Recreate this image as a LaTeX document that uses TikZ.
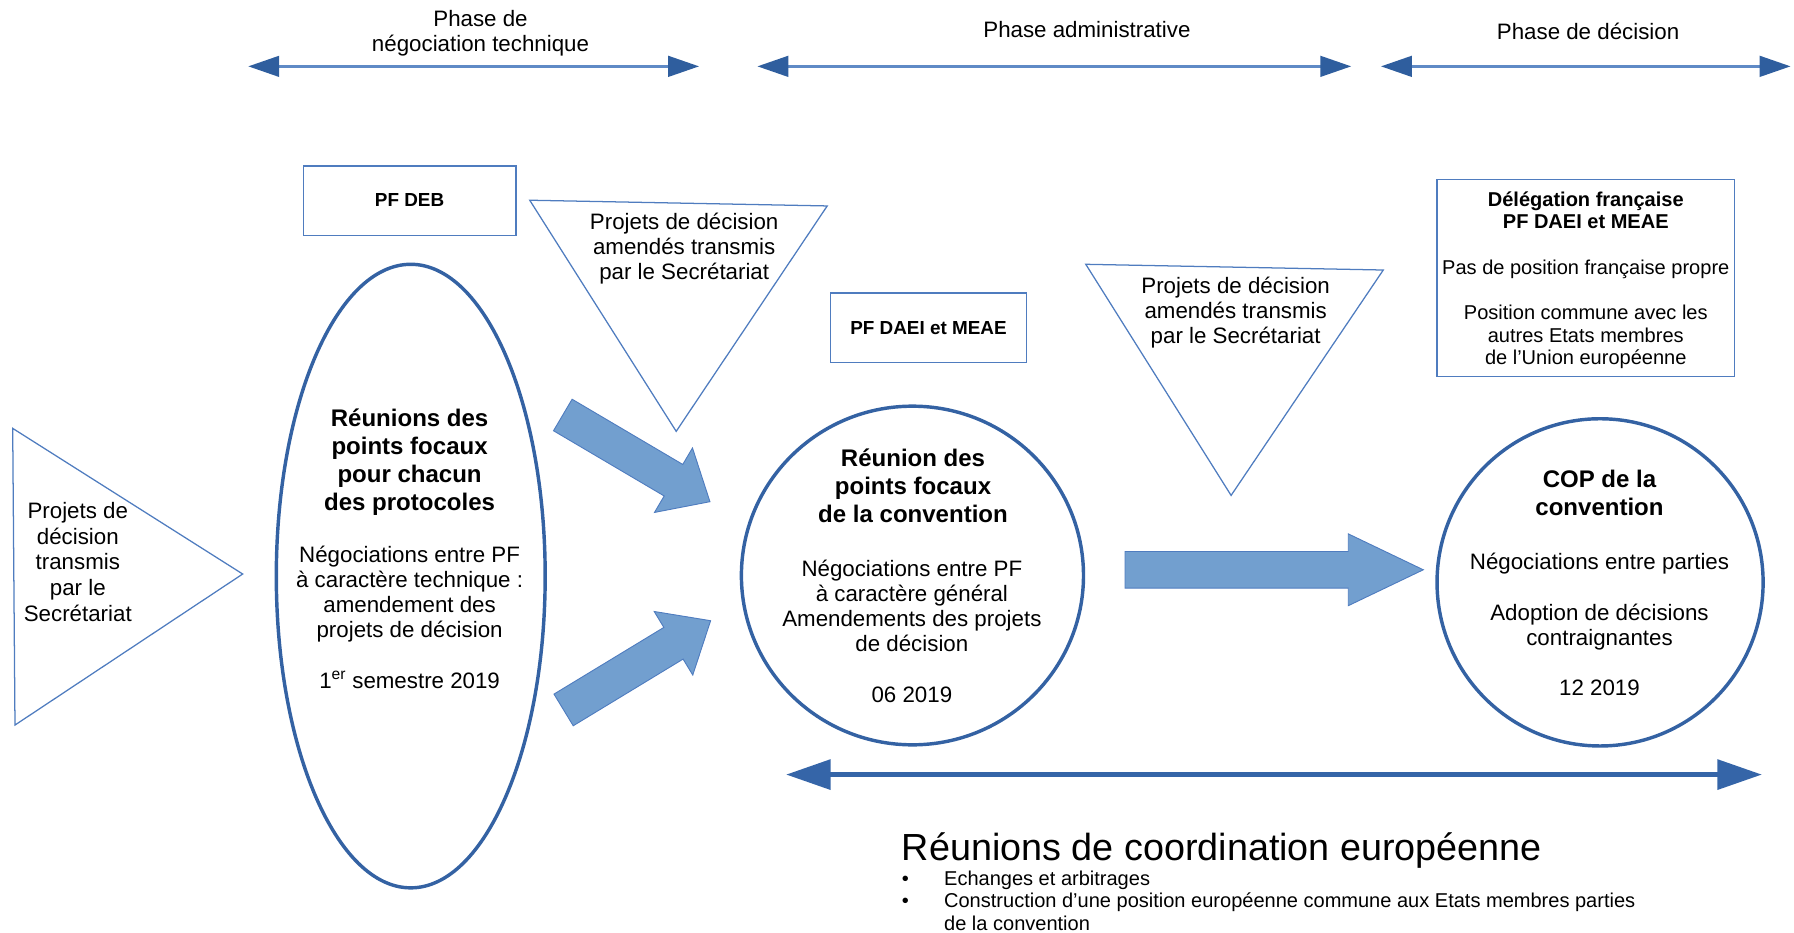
\documentclass[tikz,border=0pt]{standalone}
\usepackage{fontspec}
\setmainfont{Liberation Sans}
\usetikzlibrary{arrows.meta,calc,shapes.geometric}
\definecolor{thinblue}{HTML}{4F7CBF}
\definecolor{thickblue}{HTML}{3462A3}
\definecolor{fillblue}{HTML}{729FCF}
\definecolor{phaseline}{HTML}{5F8AC6}
\definecolor{headblue}{HTML}{2F5E9E}
\definecolor{botblue}{HTML}{3565A8}
\newcommand\blkarrow[4]{%
  \coordinate (#1-h) at ($(#1-tip)!#4!(#1-tail)$);
  \path[blockarrow] ($(#1-tail)!#2!90:(#1-tip)$) -- ($(#1-h)!#2!90:(#1-tip)$) -- ($(#1-h)!#3!90:(#1-tip)$) -- (#1-tip) -- ($(#1-h)!#3!-90:(#1-tip)$) -- ($(#1-h)!#2!-90:(#1-tip)$) -- ($(#1-tail)!#2!-90:(#1-tip)$) -- cycle;}
\begin{document}
\begin{tikzpicture}[x=1pt,y=-1pt,
  reg/.style={font=\fontsize{19.5}{22}\selectfont, align=center, inner sep=0pt},
  ttl/.style={font=\fontsize{21}{24.5}\selectfont\bfseries, align=center, inner sep=0pt},
  boxlbl/.style={font=\fontsize{16.5}{19}\selectfont\bfseries, inner sep=0pt},
  thinbox/.style={draw=thinblue, line width=1.1pt},
  thickoval/.style={ellipse, draw=thickblue, line width=3pt, inner sep=0pt},
  phasearrow/.style={draw=phaseline, line width=2.3pt, {Triangle[length=27pt,width=18pt,color=headblue]}-{Triangle[length=27pt,width=18pt,color=headblue]}},
  blockarrow/.style={fill=fillblue, draw=thinblue, line width=0.8pt, line join=miter},
  bullets/.style={font=\fontsize{17.5}{19.5}\selectfont, align=left, anchor=north west, inner sep=0pt},
]
\useasboundingbox (0,0) rectangle (1568,815.46);

% phase arrows
\coordinate (p1l) at (217,58); \coordinate (p1r) at (611,58);
\coordinate (p2l) at (662,58); \coordinate (p2r) at (1181,58);
\coordinate (p3l) at (1207,58); \coordinate (p3r) at (1565,58);
\draw[phasearrow] (p1l) -- (p1r);
\draw[phasearrow] (p2l) -- (p2r);
\draw[phasearrow] (p3l) -- (p3r);
\node[reg] (ph1) at (420,29) {Phase de\\négociation technique};
\node[reg] (ph2) at (950,25.5) {Phase administrative};
\node[reg] (ph3) at (1388,27.5) {Phase de décision};

% boxes
\node[thinbox, minimum width=186pt, minimum height=61pt, inner sep=0pt] (pfdeb) at (358,175.5) {};
\node[boxlbl] (pfdebt) at (358,175) {PF DEB};
\node[thinbox, minimum width=171pt, minimum height=61pt, inner sep=0pt] (pfdaei) at (811.5,286.5) {};
\node[boxlbl] (pfdaeit) at (811.5,286.5) {PF DAEI et MEAE};
\node[thinbox, minimum width=260pt, minimum height=172pt, inner sep=0pt] (deleg) at (1386,243) {};
\node[font=\fontsize{17.5}{19.8}\selectfont, align=center, inner sep=0pt] (delegt) at (1386,245)
  {\textbf{Délégation française}\\\textbf{PF DAEI et MEAE}\\[19.8pt]Pas de position française propre\\[19.8pt]Position commune avec les\\autres Etats membres\\de l’Union européenne};

% triangles
\draw[thinbox, line join=miter] (11.1,374.4) -- (13.1,633.7) -- (212.1,501.7) -- cycle;
\node[reg, font=\fontsize{19.5}{22.5}\selectfont] (t0) at (68,491) {Projets de\\décision\\transmis\\par le\\Secrétariat};
\draw[thinbox, line join=miter] (463,175) -- (723,180) -- (591,377) -- cycle;
\node[reg] (t1) at (598,217.5) {Projets de décision\\amendés transmis\\par le Secrétariat};
\draw[thinbox, line join=miter] (949,231) -- (1209,236) -- (1076,433) -- cycle;
\node[reg] (t2) at (1080,273) {Projets de décision\\amendés transmis\\par le Secrétariat};

% block arrows
\coordinate (ua-tail) at (491.9,362.7); \coordinate (ua-tip) at (620.5,438.5);
\blkarrow{ua}{16pt}{32.7pt}{37pt}
\coordinate (la-tail) at (492.6,620.5); \coordinate (la-tip) at (621.1,542.5);
\blkarrow{la}{16.2pt}{32.5pt}{38pt}
\coordinate (ra-tail) at (983.3,498); \coordinate (ra-tip) at (1244,498);
\blkarrow{ra}{16pt}{31.4pt}{65.6pt}

% ellipses
\node[thickoval, minimum width=235pt, minimum height=545pt] (e1) at (359,503.5) {};
\node[ttl] (e1t) at (358,404) {Réunions des\\points focaux\\pour chacun\\des protocoles};
\node[reg] (e1b) at (358,539.5) {Négociations entre PF\\à caractère technique :\\amendement des\\projets de décision\\[22pt]1\textsuperscript{er} semestre 2019};

\node[thickoval, minimum width=299pt, minimum height=296pt] (e2) at (797.5,503) {};
\node[ttl] (e2t) at (798,424.5) {Réunion des\\points focaux\\de la convention};
\node[reg] (e2b) at (797,551.5) {Négociations entre PF\\à caractère général\\Amendements des projets\\de décision\\[22pt]06 2019};

\node[thickoval, minimum width=285pt, minimum height=286pt] (e3) at (1398.5,509) {};
\node[ttl] (e3t) at (1398,431) {COP de la\\convention};
\node[reg] (e3b) at (1398,546) {Négociations entre parties\\[22pt]Adoption de décisions\\contraignantes\\[22pt]12 2019};

% bottom arrow
\coordinate (bl) at (687,677); \coordinate (br) at (1540,677);
\draw[botblue, line width=4.7pt, {Triangle[length=39pt,width=25.6pt]}-{Triangle[length=39pt,width=25.6pt]}] (bl) -- (br);

% coordination text
\node[font=\fontsize{33}{36}\selectfont, anchor=west, inner sep=0pt] (coord) at (788,743) {Réunions de coordination européenne};
\node[bullets] (bul) at (788,760) {\strut•\\\strut•};
\node[bullets] (bult) at (825,760) {\strut Echanges et arbitrages\\\strut Construction d'une position européenne commune aux Etats membres parties\\\strut de la convention};
\end{tikzpicture}
\end{document}
